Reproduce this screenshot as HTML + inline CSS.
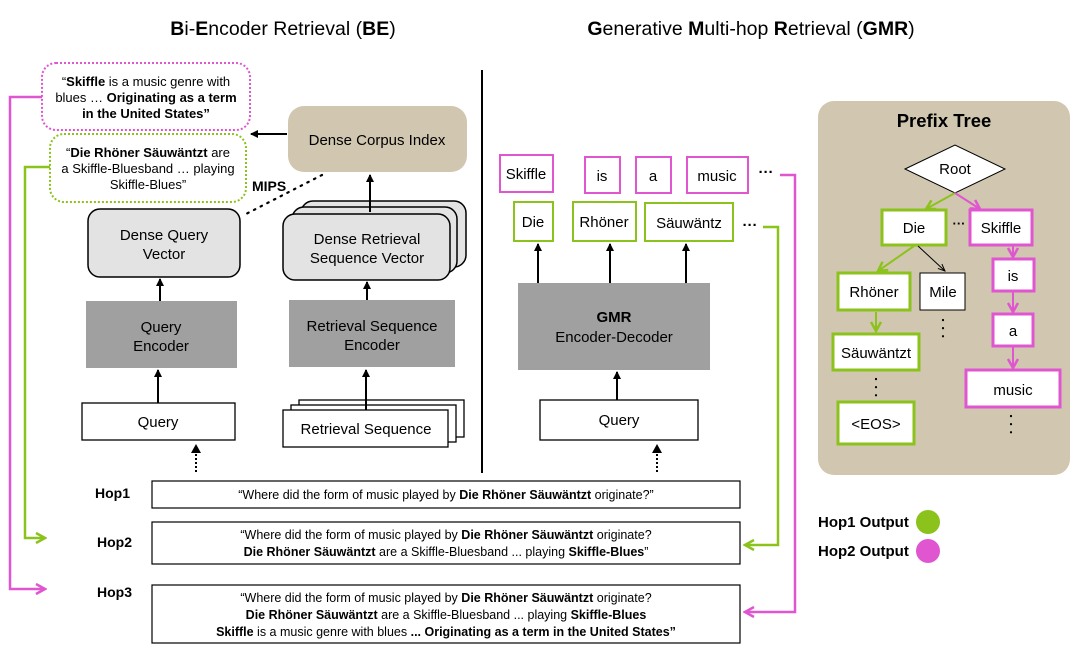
<!DOCTYPE html>
<html><head><meta charset="utf-8"><style>
html,body{margin:0;padding:0;background:#fff;}
svg{display:block;font-family:"Liberation Sans",Arial,sans-serif;}
</style></head><body>
<svg width="1080" height="648" viewBox="0 0 1080 648" xmlns="http://www.w3.org/2000/svg">
<defs>
<marker id="ab" markerWidth="8" markerHeight="8" refX="7" refY="4" orient="auto" markerUnits="userSpaceOnUse"><path d="M0,0 L8,4 L0,8 Z" fill="#000"/></marker>
<marker id="ag" markerWidth="12" markerHeight="12" refX="10" refY="6" orient="auto" markerUnits="userSpaceOnUse"><path d="M1,1 L10,6 L1,11" fill="none" stroke="#8cc21c" stroke-width="2.5"/></marker>
<marker id="ap" markerWidth="12" markerHeight="12" refX="10" refY="6" orient="auto" markerUnits="userSpaceOnUse"><path d="M1,1 L10,6 L1,11" fill="none" stroke="#e055d0" stroke-width="2.5"/></marker>
<marker id="at" markerWidth="8" markerHeight="8" refX="7" refY="4" orient="auto" markerUnits="userSpaceOnUse"><path d="M0,1 L7,4 L0,7" fill="none" stroke="#000" stroke-width="1"/></marker>
</defs>

<text x="283" y="35" font-size="19.5" text-anchor="middle"><tspan font-weight="bold">B</tspan>i-<tspan font-weight="bold">E</tspan>ncoder Retrieval (<tspan font-weight="bold">BE</tspan>)</text>
<text x="751" y="35" font-size="19.5" text-anchor="middle"><tspan font-weight="bold">G</tspan>enerative <tspan font-weight="bold">M</tspan>ulti-hop <tspan font-weight="bold">R</tspan>etrieval (<tspan font-weight="bold">GMR</tspan>)</text>

<line x1="482" y1="70" x2="482" y2="473" stroke="#000" stroke-width="2"/>

<polyline points="42,97 10,97 10,589 45,589" fill="none" stroke="#e055d0" stroke-width="2.5" marker-end="url(#ap)"/>
<polyline points="50,167 25,167 25,538 45,538" fill="none" stroke="#8cc21c" stroke-width="2.5" marker-end="url(#ag)"/>

<rect x="42" y="63" width="208" height="67" rx="14" fill="#fff" stroke="#e055d0" stroke-width="2" stroke-dasharray="2,2"/>
<text x="146" y="86" font-size="13" text-anchor="middle">“<tspan font-weight="bold">Skiffle</tspan> is a music genre with</text>
<text x="146" y="102" font-size="13" text-anchor="middle">blues … <tspan font-weight="bold">Originating as a term</tspan></text>
<text x="146" y="118" font-size="13" text-anchor="middle" font-weight="bold">in the United States”</text>
<rect x="50" y="134" width="196" height="68" rx="14" fill="#fff" stroke="#8cc21c" stroke-width="2" stroke-dasharray="2,2"/>
<text x="148" y="157" font-size="13" text-anchor="middle">“<tspan font-weight="bold">Die Rhöner Säuwäntzt</tspan>  are</text>
<text x="148" y="173" font-size="13" text-anchor="middle">a Skiffle-Bluesband … playing</text>
<text x="148" y="189" font-size="13" text-anchor="middle">Skiffle-Blues”</text>

<rect x="288" y="106" width="179" height="66" rx="16" fill="#d1c7b0"/>
<text x="377" y="145" font-size="15" text-anchor="middle">Dense Corpus Index</text>
<line x1="287" y1="134" x2="251" y2="134" stroke="#000" stroke-width="2" marker-end="url(#ab)"/>
<text x="252" y="191" font-size="14" font-weight="bold">MIPS</text>
<line x1="322" y1="175" x2="246" y2="214" stroke="#000" stroke-width="2.2" stroke-dasharray="1.5,6" stroke-linecap="round"/>

<rect x="88" y="209" width="152" height="68" rx="12" fill="#e3e3e3" stroke="#000" stroke-width="1.5"/>
<text x="164" y="240" font-size="15" text-anchor="middle">Dense Query</text>
<text x="164" y="259" font-size="15" text-anchor="middle">Vector</text>

<rect x="301" y="201" width="165" height="66" rx="12" fill="#e3e3e3" stroke="#000" stroke-width="1.5"/>
<rect x="292" y="207" width="165" height="66" rx="12" fill="#e3e3e3" stroke="#000" stroke-width="1.5"/>
<rect x="283" y="214" width="167" height="66" rx="12" fill="#e3e3e3" stroke="#000" stroke-width="1.5"/>
<text x="367" y="244" font-size="15" text-anchor="middle">Dense Retrieval</text>
<text x="367" y="263" font-size="15" text-anchor="middle">Sequence Vector</text>
<line x1="370" y1="212" x2="370" y2="175" stroke="#000" stroke-width="2" marker-end="url(#ab)"/>

<rect x="86" y="301" width="151" height="67" fill="#a0a0a0"/>
<text x="161" y="332" font-size="15" text-anchor="middle">Query</text>
<text x="161" y="351" font-size="15" text-anchor="middle">Encoder</text>
<rect x="289" y="300" width="166" height="67" fill="#a0a0a0"/>
<text x="372" y="331" font-size="15" text-anchor="middle">Retrieval Sequence</text>
<text x="372" y="350" font-size="15" text-anchor="middle">Encoder</text>
<line x1="160" y1="301" x2="160" y2="279" stroke="#000" stroke-width="2" marker-end="url(#ab)"/>
<line x1="367" y1="300" x2="367" y2="282" stroke="#000" stroke-width="2" marker-end="url(#ab)"/>

<rect x="82" y="403" width="153" height="37" fill="#fff" stroke="#000" stroke-width="1.3"/>
<text x="158" y="427" font-size="15" text-anchor="middle">Query</text>
<line x1="158" y1="403" x2="158" y2="370" stroke="#000" stroke-width="2" marker-end="url(#ab)"/>
<rect x="299" y="400" width="165" height="37" fill="#fff" stroke="#000" stroke-width="1.3"/>
<rect x="291" y="405" width="165" height="37" fill="#fff" stroke="#000" stroke-width="1.3"/>
<rect x="283" y="410" width="165" height="37" fill="#fff" stroke="#000" stroke-width="1.3"/>
<text x="366" y="434" font-size="15" text-anchor="middle">Retrieval Sequence</text>
<line x1="366" y1="410" x2="366" y2="370" stroke="#000" stroke-width="2" marker-end="url(#ab)"/>

<line x1="196" y1="472" x2="196" y2="452" stroke="#000" stroke-width="2" stroke-dasharray="2,2"/>
<path d="M191,453 L196,444 L201,453 Z" fill="#000"/>
<line x1="657" y1="472" x2="657" y2="452" stroke="#000" stroke-width="2" stroke-dasharray="2,2"/>
<path d="M652,453 L657,444 L662,453 Z" fill="#000"/>

<g fill="#fff" stroke-width="2">
<rect x="500" y="155" width="53" height="37" stroke="#e055d0"/>
<rect x="585" y="157" width="35" height="36" stroke="#e055d0"/>
<rect x="636" y="157" width="35" height="36" stroke="#e055d0"/>
<rect x="687" y="157" width="61" height="36" stroke="#e055d0"/>
<rect x="514" y="202" width="39" height="39" stroke="#8cc21c"/>
<rect x="573" y="202" width="63" height="39" stroke="#8cc21c"/>
<rect x="645" y="203" width="88" height="38" stroke="#8cc21c"/>
</g>
<g font-size="15" text-anchor="middle">
<text x="526" y="179">Skiffle</text>
<text x="602" y="181">is</text>
<text x="653" y="181">a</text>
<text x="717" y="181">music</text>
<text x="533" y="227">Die</text>
<text x="604" y="227">Rhöner</text>
<text x="689" y="228">Säuwäntz</text>
</g>
<text x="766" y="177" font-size="15" font-weight="bold" text-anchor="middle">···</text>
<text x="750" y="230" font-size="15" font-weight="bold" text-anchor="middle">···</text>
<polyline points="780,175 795,175 795,612 745,612" fill="none" stroke="#e055d0" stroke-width="2.5" marker-end="url(#ap)"/>
<polyline points="763,227 778,227 778,545 745,545" fill="none" stroke="#8cc21c" stroke-width="2.5" marker-end="url(#ag)"/>

<rect x="518" y="283" width="192" height="87" fill="#a0a0a0"/>
<text x="614" y="322" font-size="15" font-weight="bold" text-anchor="middle">GMR</text>
<text x="614" y="342" font-size="15" text-anchor="middle">Encoder-Decoder</text>
<line x1="538" y1="283" x2="538" y2="244" stroke="#000" stroke-width="2" marker-end="url(#ab)"/>
<line x1="610" y1="283" x2="610" y2="244" stroke="#000" stroke-width="2" marker-end="url(#ab)"/>
<line x1="686" y1="283" x2="686" y2="244" stroke="#000" stroke-width="2" marker-end="url(#ab)"/>
<rect x="540" y="400" width="158" height="40" fill="#fff" stroke="#000" stroke-width="1.3"/>
<text x="619" y="425" font-size="15" text-anchor="middle">Query</text>
<line x1="617" y1="400" x2="617" y2="372" stroke="#000" stroke-width="2" marker-end="url(#ab)"/>

<rect x="818" y="101" width="252" height="374" rx="16" fill="#d1c7b0"/>
<text x="944" y="127" font-size="18.5" font-weight="bold" text-anchor="middle">Prefix Tree</text>
<polygon points="905,169 955,145 1005,169 955,193" fill="#fff" stroke="#000" stroke-width="1"/>
<text x="955" y="174" font-size="15" text-anchor="middle">Root</text>
<line x1="955" y1="193" x2="926" y2="209" stroke="#8cc21c" stroke-width="2" marker-end="url(#ag)"/>
<line x1="955" y1="193" x2="980" y2="209" stroke="#e055d0" stroke-width="2" marker-end="url(#ap)"/>
<g fill="#fff" stroke-width="3">
<rect x="882" y="210" width="64" height="35" stroke="#8cc21c"/>
<rect x="970" y="210" width="62" height="35" stroke="#e055d0"/>
<rect x="838" y="273" width="72" height="37" stroke="#8cc21c"/>
<rect x="920" y="273" width="45" height="37" stroke="#000" stroke-width="1"/>
<rect x="833" y="334" width="86" height="36" stroke="#8cc21c"/>
<rect x="838" y="402" width="76" height="42" stroke="#8cc21c"/>
<rect x="993" y="259" width="41" height="32" stroke="#e055d0"/>
<rect x="993" y="314" width="40" height="32" stroke="#e055d0"/>
<rect x="966" y="370" width="94" height="37" stroke="#e055d0"/>
</g>
<g font-size="15" text-anchor="middle">
<text x="914" y="233">Die</text>
<text x="1001" y="233">Skiffle</text>
<text x="874" y="297">Rhöner</text>
<text x="943" y="297">Mile</text>
<text x="876" y="358">Säuwäntzt</text>
<text x="876" y="429">&lt;EOS&gt;</text>
<text x="1013" y="281">is</text>
<text x="1013" y="336">a</text>
<text x="1013" y="395">music</text>
</g>
<text x="959" y="228" font-size="13" font-weight="bold" text-anchor="middle">···</text>
<line x1="914" y1="246" x2="878" y2="271" stroke="#8cc21c" stroke-width="2" marker-end="url(#ag)"/>
<line x1="918" y1="246" x2="945" y2="271" stroke="#000" stroke-width="1" marker-end="url(#at)"/>
<line x1="876" y1="312" x2="876" y2="331" stroke="#8cc21c" stroke-width="2" marker-end="url(#ag)"/>
<line x1="1013" y1="246" x2="1013" y2="257" stroke="#e055d0" stroke-width="2" marker-end="url(#ap)"/>
<line x1="1013" y1="292" x2="1013" y2="312" stroke="#e055d0" stroke-width="2" marker-end="url(#ap)"/>
<line x1="1013" y1="347" x2="1013" y2="368" stroke="#e055d0" stroke-width="2" marker-end="url(#ap)"/>
<g stroke="#000" stroke-width="2.2" stroke-dasharray="0.1,8" stroke-linecap="round">
<line x1="943" y1="320" x2="943" y2="338"/>
<line x1="876" y1="379" x2="876" y2="396"/>
<line x1="1011" y1="416" x2="1011" y2="434"/>
</g>

<g font-size="14" font-weight="bold">
<text x="95" y="498">Hop1</text>
<text x="97" y="547">Hop2</text>
<text x="97" y="597">Hop3</text>
</g>
<rect x="152" y="481" width="588" height="27" fill="#fff" stroke="#000" stroke-width="1.2"/>
<text x="446" y="499" font-size="12.5" text-anchor="middle">“Where did the form of music played by  <tspan font-weight="bold">Die Rhöner Säuwäntzt</tspan> originate?”</text>
<rect x="152" y="522" width="588" height="42" fill="#fff" stroke="#000" stroke-width="1.2"/>
<text x="446" y="539" font-size="12.5" text-anchor="middle">“Where did the form of music played by  <tspan font-weight="bold">Die Rhöner Säuwäntzt</tspan> originate?</text>
<text x="446" y="556" font-size="12.5" text-anchor="middle"><tspan font-weight="bold">Die Rhöner Säuwäntzt</tspan>  are a Skiffle-Bluesband ... playing <tspan font-weight="bold">Skiffle-Blues</tspan>”</text>
<rect x="152" y="585" width="588" height="58" fill="#fff" stroke="#000" stroke-width="1.2"/>
<text x="446" y="602" font-size="12.5" text-anchor="middle">“Where did the form of music played by  <tspan font-weight="bold">Die Rhöner Säuwäntzt</tspan> originate?</text>
<text x="446" y="619" font-size="12.5" text-anchor="middle"><tspan font-weight="bold">Die Rhöner Säuwäntzt</tspan>  are a Skiffle-Bluesband ... playing <tspan font-weight="bold">Skiffle-Blues</tspan></text>
<text x="446" y="636" font-size="12.5" text-anchor="middle"><tspan font-weight="bold">Skiffle</tspan> is a music genre with blues <tspan font-weight="bold">... Originating as a term in the United States”</tspan></text>

<text x="818" y="527" font-size="15" font-weight="bold">Hop1 Output</text>
<circle cx="928" cy="522" r="12" fill="#8cc21c"/>
<text x="818" y="556" font-size="15" font-weight="bold">Hop2 Output</text>
<circle cx="928" cy="551" r="12" fill="#e055d0"/>
</svg>
</body></html>
